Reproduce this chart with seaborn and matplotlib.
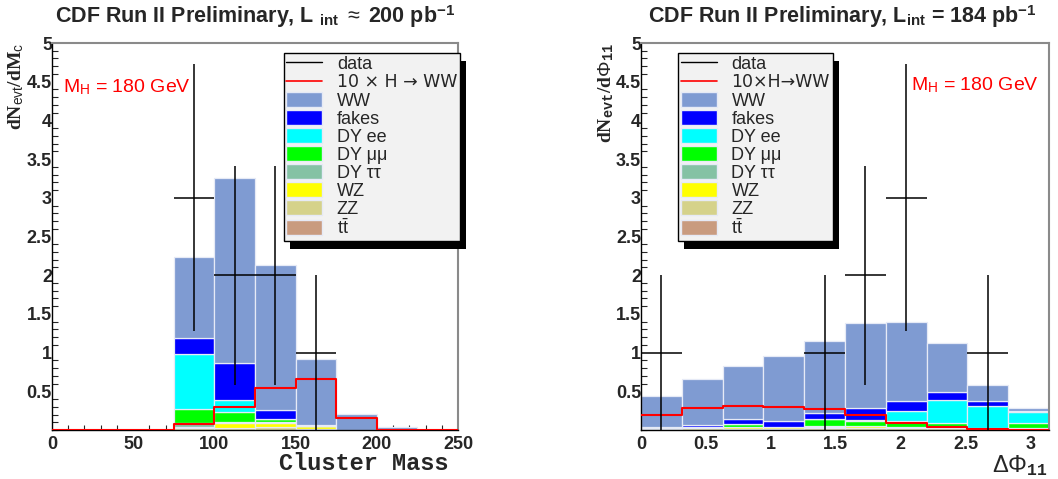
import numpy as np
import pandas as pd
import matplotlib
matplotlib.use("Agg")
import matplotlib.pyplot as plt
from matplotlib.patches import Patch, Rectangle
from matplotlib.lines import Line2D
from matplotlib.ticker import MultipleLocator
import seaborn as sns

# processes, stacked bottom-up in reverse order
keys = ["WW", "fakes", "DYee", "DYmm", "DYtt", "WZ", "ZZ", "ttbar"]
labels = ["WW", "fakes", "DY ee", "DY μμ", "DY ττ", "WZ", "ZZ", r"t$\bar{\rm t}$"]
colors = ["#7f9bd2", "#0000ff", "#00ffff", "#00ff00", "#84c2a4", "#ffff00",
          "#d5d28a", "#c99b7f"]

# -----------------------------
# left: cluster mass
# -----------------------------
mass_edges = [0, 25, 50, 75, 100, 125, 150, 175, 200, 225, 250]
mass_ww = [0, 0, 0, 1.05, 2.39, 1.875, 0.86, 0.205, 0.035, 0]
mass_fakes = [0, 0, 0, 0.20, 0.48, 0.108, 0.006, 0, 0, 0]
mass_dyee = [0, 0, 0, 0.72, 0.15, 0.005, 0, 0, 0, 0]
mass_dymm = [0, 0, 0, 0.18, 0.13, 0.035, 0, 0, 0, 0]
mass_dytt = [0, 0, 0, 0.05, 0.02, 0.012, 0.005, 0, 0, 0]
mass_wz = [0, 0, 0, 0.01, 0.065, 0.06, 0.04, 0.005, 0, 0]
mass_zz = [0, 0, 0, 0.02, 0.017, 0.03, 0.006, 0, 0, 0]
mass_ttbar = [0, 0, 0, 0.005, 0.005, 0.005, 0.003, 0, 0, 0]
mass_higgs = [0, 0, 0, 0.08, 0.30, 0.54, 0.66, 0.15, 0, 0]
mass_data_bins = [3, 4, 5, 6]
mass_data = [3, 2, 2, 1]
mass_data_lo = [1.28, 0.58, 0.58, 0.0]
mass_data_hi = [4.73, 3.41, 3.41, 2.0]

# -----------------------------
# right: delta phi
# -----------------------------
phi_edges = list(np.linspace(0, np.pi, 11))
phi_ww = [0.395, 0.585, 0.69, 0.84, 0.93, 1.09, 1.025, 0.64, 0.20, 0.05]
phi_fakes = [0.015, 0.025, 0.06, 0.065, 0.08, 0.16, 0.13, 0.10, 0.07, 0.01]
phi_dyee = [0.005, 0.005, 0.005, 0, 0, 0.015, 0.125, 0.305, 0.29, 0.145]
phi_dymm = [0, 0.005, 0.04, 0, 0.09, 0.065, 0.075, 0.04, 0.005, 0.065]
phi_dytt = [0.005, 0.005, 0, 0.005, 0.005, 0, 0, 0.005, 0, 0.005]
phi_wz = [0.005, 0.01, 0.02, 0.025, 0.025, 0.03, 0.025, 0.02, 0.005, 0.005]
phi_zz = [0.015, 0.02, 0.015, 0.015, 0.02, 0.02, 0.02, 0.02, 0.01, 0.01]
phi_ttbar = [0, 0, 0, 0, 0, 0, 0, 0, 0, 0]
phi_higgs = [0.20, 0.29, 0.31, 0.30, 0.27, 0.19, 0.095, 0.043, 0.01, 0.005]
phi_data_bins = [0, 4, 5, 6, 8]
phi_data = [1, 1, 2, 3, 1]
phi_data_lo = [0, 0, 0.58, 1.28, 0]
phi_data_hi = [2, 2, 3.41, 4.73, 2]

sns.set_style("white")
plt.rcParams["font.family"] = ["Liberation Sans", "DejaVu Sans"]
plt.rcParams["mathtext.fontset"] = "custom"
plt.rcParams["mathtext.rm"] = "Liberation Sans"
plt.rcParams["mathtext.it"] = "Liberation Serif:italic"
plt.rcParams["mathtext.bf"] = "Liberation Sans:bold"
plt.rcParams["mathtext.tt"] = "Liberation Mono:bold"


def long_table(edges, series):
    edges = np.asarray(edges, dtype=float)
    centers = (edges[:-1] + edges[1:]) / 2
    rows = []
    for key, vals in zip(keys, series):
        for c, v in zip(centers, vals):
            rows.append({"x": c, "w": v, "process": key})
    return pd.DataFrame(rows)


def draw_panel(ax, edges, series, higgs, dbins, dvals, dlo, dhi):
    df = long_table(edges, series)
    sns.histplot(data=df, x="x", weights="w", hue="process", hue_order=keys,
                 palette=colors, bins=[float(e) for e in edges], multiple="stack",
                 element="bars", alpha=1, edgecolor="#e6eaf6", linewidth=0.9,
                 legend=False, ax=ax)
    edges = np.asarray(edges, dtype=float)
    sns.lineplot(x=edges, y=list(higgs) + [higgs[-1]], drawstyle="steps-post",
                 color="red", linewidth=1.5, ax=ax, zorder=4)
    centers = (edges[:-1] + edges[1:]) / 2
    half = (edges[1] - edges[0]) / 2
    xs = centers[dbins]
    dvals = np.asarray(dvals, float)
    ax.errorbar(xs, dvals, xerr=half,
                yerr=[dvals - np.asarray(dlo), np.asarray(dhi) - dvals],
                fmt="none", ecolor="black", elinewidth=1.1, zorder=5)
    ax.set_xlim(edges[0], edges[-1])
    ax.set_ylim(0, 5)
    ax.set_xlabel("")
    ax.set_ylabel("")
    yt = [0.5, 1, 1.5, 2, 2.5, 3, 3.5, 4, 4.5, 5]
    ax.set_yticks(yt, ["%g" % v for v in yt])
    ax.yaxis.set_minor_locator(MultipleLocator(0.1))
    ax.tick_params(axis="both", which="major", direction="in", labelsize=13,
                   width=1, color="black")
    ax.tick_params(axis="y", which="major", length=9, pad=0)
    ax.tick_params(axis="y", which="minor", direction="in", length=4.5, width=0.8,
                   left=True)
    ax.tick_params(axis="x", which="major", length=7, pad=4)
    ax.tick_params(axis="x", which="minor", direction="in", length=3.5, width=0.8,
                   bottom=True)
    for lab in ax.get_xticklabels() + ax.get_yticklabels():
        lab.set_fontweight("bold")
    for s in ["top", "right"]:
        ax.spines[s].set_color("#8a8a8a")
        ax.spines[s].set_linewidth(1.5)
    for s in ["left", "bottom"]:
        ax.spines[s].set_color("black")
        ax.spines[s].set_linewidth(1.0)


def add_legend(fig, ax, anchor, hlabel):
    handles = [Line2D([], [], color="black", lw=1.0),
               Line2D([], [], color="red", lw=1.2)]
    handles += [Patch(facecolor=c, edgecolor="#e6eaf6") for c in colors]
    texts = ["data", hlabel] + labels
    leg = ax.legend(handles, texts, loc="upper left", bbox_to_anchor=anchor,
                    bbox_transform=fig.transFigure, fontsize=13, frameon=True,
                    fancybox=False, facecolor="#f2f2f2", edgecolor="black",
                    framealpha=1, labelspacing=0.02, handlelength=2.0,
                    handleheight=0.9, handletextpad=0.8, borderpad=0.15,
                    borderaxespad=0)
    leg.get_texts()[1].set_family(["DejaVu Sans"])
    leg.get_texts()[1].set_fontsize(12.5)
    leg.get_frame().set_linewidth(1.0)
    leg.set_zorder(10)
    return leg


fig = plt.figure(figsize=(10.58, 4.79), dpi=100)
ax1 = fig.add_axes([0.0491, 0.1023, 0.3838, 0.8079])
ax2 = fig.add_axes([0.6059, 0.1023, 0.3856, 0.8079])

draw_panel(ax1, mass_edges,
           [mass_ww, mass_fakes, mass_dyee, mass_dymm, mass_dytt, mass_wz, mass_zz, mass_ttbar],
           mass_higgs, mass_data_bins, mass_data, mass_data_lo, mass_data_hi)
ax1.set_xticks([0, 50, 100, 150, 200, 250], ["0", "50", "100", "150", "200", "250"])
ax1.xaxis.set_minor_locator(MultipleLocator(10))
for lab in ax1.get_xticklabels():
    lab.set_fontweight("bold")

draw_panel(ax2, phi_edges,
           [phi_ww, phi_fakes, phi_dyee, phi_dymm, phi_dytt, phi_wz, phi_zz, phi_ttbar],
           phi_higgs, phi_data_bins, phi_data, phi_data_lo, phi_data_hi)
ax2.set_xticks([0, 0.5, 1, 1.5, 2, 2.5, 3], ["0", "0.5", "1", "1.5", "2", "2.5", "3"])
ax2.xaxis.set_minor_locator(MultipleLocator(0.1))
for lab in ax2.get_xticklabels():
    lab.set_fontweight("bold")

# titles
fig.text(0.241, 0.966, r"CDF Run II Preliminary, L $_{\mathbf{int}}$ $\approx$ 200 pb$^{\mathbf{-1}}$",
         ha="center", va="center", fontsize=15.5, fontweight="bold")
fig.text(0.796, 0.966, r"CDF Run II Preliminary, L$_{\mathbf{int}}$ = 184 pb$^{\mathbf{-1}}$",
         ha="center", va="center", fontsize=15.5, fontweight="bold")

# axis labels
fig.text(0.015, 0.91, r"dN$_{\rm evt}$/dM$_{\rm c}$", rotation=90, ha="center",
         va="top", fontsize=14, fontweight="bold", family="Liberation Serif")
fig.text(0.424, 0.032, "Cluster Mass", ha="right", va="center", fontsize=17,
         fontweight="bold", family="Liberation Mono")
fig.text(0.573, 0.91, r"dN$_{\mathtt{evt}}$/d$\Phi_{\mathtt{11}}$", rotation=90,
         ha="center", va="top", fontsize=14, fontweight="bold",
         family="Liberation Serif")
fig.text(0.99, 0.028, r"$\Delta\Phi_{\mathtt{11}}$", ha="right", va="center",
         fontsize=17, family="Liberation Serif")

# mass hypothesis
ax1.text(0.026, 0.885, r"M$_{\rm H}$ = 180 GeV", transform=ax1.transAxes,
         color="red", fontsize=14, ha="left", va="center")
ax2.text(0.975, 0.89, r"M$_{\rm H}$ = 180 GeV", transform=ax2.transAxes,
         color="red", fontsize=14, ha="right", va="center")

leg1 = add_legend(fig, ax1, (0.268, 0.890), "10 × H → WW")
leg2 = add_legend(fig, ax2, (0.641, 0.890), "10×H→WW")

# ROOT-style drop shadow behind legends
fig.canvas.draw()
inv = fig.transFigure.inverted()
for ax, leg in [(ax1, leg1), (ax2, leg2)]:
    bb = leg.get_frame().get_window_extent()
    (x0, y0), (x1, y1) = inv.transform([[bb.x0 + 6, bb.y0 - 8], [bb.x1 + 6, bb.y1 - 8]])
    ax.add_patch(Rectangle((x0, y0), x1 - x0, y1 - y0, transform=fig.transFigure,
                           facecolor="black", edgecolor="none", zorder=9,
                           clip_on=False))

fig.savefig("out.png", dpi=100)
